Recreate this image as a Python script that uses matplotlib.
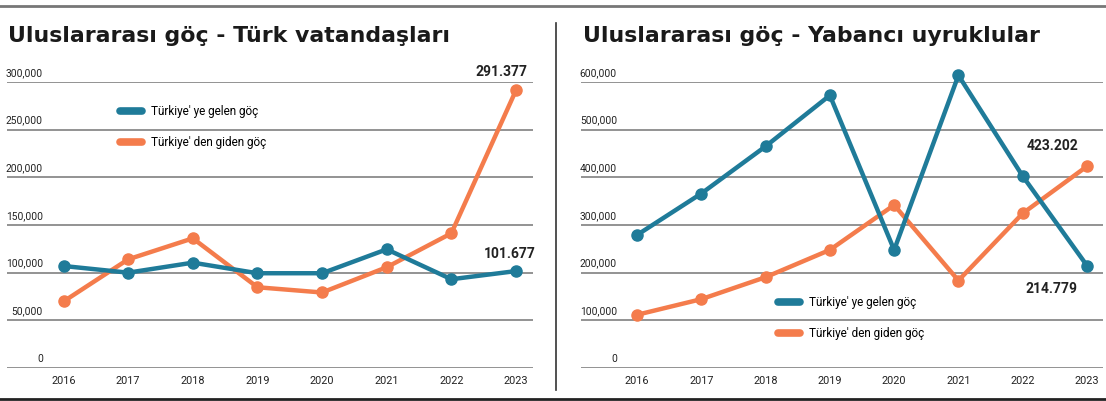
import matplotlib
matplotlib.use('Agg')
import matplotlib.pyplot as plt
from matplotlib.lines import Line2D

years = [2016, 2017, 2018, 2019, 2020, 2021, 2022, 2023]

# Türk vatandaşları
turk_gelen = [107000, 100000, 110500, 99400, 99400, 124500, 93100, 101677]
turk_giden = [69800, 114000, 136000, 84700, 79200, 105700, 141300, 291377]

# Yabancı uyruklular
yab_gelen = [279000, 366000, 465000, 572000, 247700, 614000, 402500, 214779]
yab_giden = [111600, 144400, 190500, 247700, 341900, 183500, 324400, 423202]

left_ticks = [0, 50000, 100000, 150000, 200000, 250000, 300000]
left_labels = ['0', '50,000', '100,000', '150,000', '200,000', '250,000', '300,000']
right_ticks = [0, 100000, 200000, 300000, 400000, 500000, 600000]
right_labels = ['0', '100,000', '200,000', '300,000', '400,000', '500,000', '600,000']

titles = ['Uluslararası göç - Türk vatandaşları', 'Uluslararası göç - Yabancı uyruklular']
legend_labels = ["Türkiye' ye gelen göç", "Türkiye' den giden göç"]

blue = '#1f7b99'
orange = '#f47c4c'
grid_c = '#8a8a8a'
small = ['Roboto', 'DejaVu Sans']

W, H = 1106, 401
fig = plt.figure(figsize=(W / 100, H / 100), dpi=100)


def px_axes(x0, x1, ytop, ybot):
    return fig.add_axes([x0 / W, (H - ybot) / H, (x1 - x0) / W, (ybot - ytop) / H])


ax1 = px_axes(7, 533, 82, 368)
ax2 = px_axes(581, 1103, 82, 368)


def setup(ax, ticks, labels, xlim, ymax, lab_x):
    ax.set_xlim(*xlim)
    ax.set_ylim(0, ymax)
    for s in ax.spines.values():
        s.set_visible(False)
    ax.set_yticks([])
    ax.set_xticks(years)
    ax.set_xticklabels([str(y) for y in years], family=small, fontsize=7.8, color='#222222')
    ax.tick_params(axis='x', length=0, pad=6)
    for t, l in zip(ticks, labels):
        ax.axhline(t, color=grid_c, lw=1.3, zorder=1)
        ax.text(lab_x, t + ymax * 0.015, l, transform=ax.get_yaxis_transform(),
                ha='right', va='bottom', family=small, fontsize=7.4, color='#222222')


setup(ax1, left_ticks, left_labels, (2015.125, 2023.263), 300000, 36 / 526)
setup(ax2, right_ticks, right_labels, (2015.129, 2023.249), 600000, 36 / 522)

for ax, g, d in [(ax1, turk_gelen, turk_giden), (ax2, yab_gelen, yab_giden)]:
    ax.plot(years, d, color=orange, lw=3.2, marker='o', ms=8, zorder=3, clip_on=False)
    ax.plot(years, g, color=blue, lw=3.2, marker='o', ms=8, zorder=4, clip_on=False)

# value labels
bold_kw = dict(family=small, fontsize=10, fontweight='bold', color='#222222', ha='right',
               va='center', textcoords='offset points')


def fmt(v):
    return f"{v:,}".replace(',', '.')


ax1.annotate(fmt(turk_giden[-1]), (years[-1], turk_giden[-1]), xytext=(8, 13), **bold_kw)
ax1.annotate(fmt(turk_gelen[-1]), (years[-1], turk_gelen[-1]), xytext=(14.5, 12), **bold_kw)
ax2.annotate(fmt(yab_giden[-1]), (years[-1], yab_giden[-1]), xytext=(-6.5, 14.5), **bold_kw)
ax2.annotate(fmt(yab_gelen[-1]), (years[-1], yab_gelen[-1]), xytext=(-6.5, -17), **bold_kw)

handles = [Line2D([], [], color=blue, lw=5.5, solid_capstyle='round'),
           Line2D([], [], color=orange, lw=5.5, solid_capstyle='round')]
leg_kw = dict(frameon=False, handlelength=1.9, handletextpad=0.7, labelspacing=1.55,
              prop={'family': small, 'size': 8.5}, borderpad=0, borderaxespad=0)
ax1.legend(handles, legend_labels, loc='upper left',
           bbox_to_anchor=((120 - 7) / 526, (368 - 105) / 286), **leg_kw)
ax2.legend(handles, legend_labels, loc='upper left',
           bbox_to_anchor=((778 - 581) / 522, (368 - 296) / 286), **leg_kw)

# titles
fig.text(8 / W, 1 - 36 / H, titles[0], fontsize=15.8, fontweight='bold', va='center', color='#1a1a1a')
fig.text(583 / W, 1 - 36 / H, titles[1], fontsize=15.8, fontweight='bold', va='center', color='#1a1a1a')

# frame lines
fig.add_artist(Line2D([0, 1], [1 - 6 / H, 1 - 6 / H], color='#777777', lw=2))
fig.add_artist(Line2D([0, 1], [1 - 399 / H, 1 - 399 / H], color='#222222', lw=2))
fig.add_artist(Line2D([556 / W, 556 / W], [1 - 23 / H, 1 - 390 / H], color='#333333', lw=1.2))

fig.savefig('out.png', dpi=100, facecolor='white')
